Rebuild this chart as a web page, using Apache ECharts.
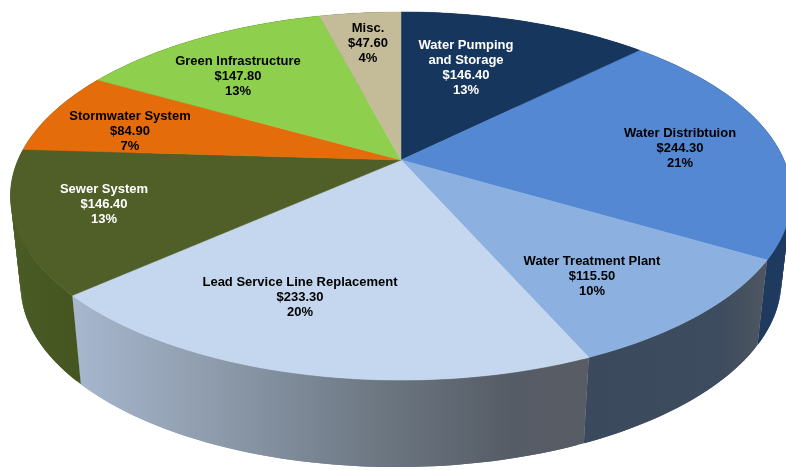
<!DOCTYPE html>
<html>
<head>
<meta charset="utf-8">
<style>html,body{margin:0;padding:0;background:#fff}#c{width:786px;height:470px}</style>
<script src="https://cdn.jsdelivr.net/npm/echarts@6/dist/echarts.min.js"></script>
</head>
<body>
<div id="c"></div>
<script>
var categories = ['Water Pumping\nand Storage','Water Distribtuion','Water Treatment Plant','Lead Service Line Replacement','Sewer System','Stormwater System','Green Infrastructure','Misc.'];
var values = [146.4,244.3,115.5,233.3,146.4,84.9,147.8,47.6];
var topColors = ['#17365d','#5488d3','#8cb1e0','#c4d7ef','#505f28','#e46c0a','#8ecf4e','#c4bc98'];
var labelColors = ['#fff','#000','#000','#000','#fff','#000','#000','#000'];
var labelCenters = [[466,68],[680,148],[592,276],[300,297],[104,204],[130,131],[238,76],[368,43]];

var LG = echarts.graphic.LinearGradient;
function grad(x0,x1,stops){
  return new LG(x0,0,x1,0,stops.map(function(s){return {offset:s[0],color:s[1]};}),true);
}
var wallColors = [
  '#17365d',
  grad(755,790,[[0,'#1f3a5e'],[1,'#1f3a60']]),
  grad(584,767,[[0,'#3a495b'],[0.75,'#3d4c5e'],[1,'#4f5761']]),
  grad(78,588,[[0,'#a6b6cd'],[0.25,'#8f9dae'],[0.6,'#6b7681'],[0.85,'#565c66'],[1,'#585c64']]),
  grad(10,82,[[0,'#4b5b26'],[1,'#45551f']]),
  '#45551f','#45551f','#45551f'
];

// Perspective projection of the pie disc
var CX=401, CY=160, RX=383, RY=177, K=0.1957;
var DROP=87, SHEAR=-0.006, SCALE_X=0.974;
var total = values.reduce(function(a,b){return a+b;},0);
var cum = [0];
values.forEach(function(v,i){cum.push(cum[i]+v);});

function rim(t){
  var u=Math.sin(t), v=-Math.cos(t), d=1-K*v;
  return [CX+RX*u/d, CY+RY*v/d];
}
function base(t){
  var p=rim(t);
  var x=CX+(p[0]-CX)*SCALE_X;
  return [x, p[1]+DROP+SHEAR*(x-CX)];
}
function arc(fn,a,b){
  var n=Math.max(4,Math.ceil(Math.abs(b-a)*60)), pts=[];
  for(var i=0;i<=n;i++){pts.push(fn(a+(b-a)*i/n));}
  return pts;
}
function angles(i){
  return [cum[i]/total*2*Math.PI, cum[i+1]/total*2*Math.PI];
}
function labelOf(i){
  var pct=Math.round(values[i]/total*100);
  return categories[i]+'\n$'+values[i].toFixed(2)+'\n'+pct+'%';
}

var chart = echarts.init(document.getElementById('c'),null,{renderer:'canvas'});
chart.setOption({
  backgroundColor:'#fff',
  animation:false,
  series:[
    {
      type:'custom', coordinateSystem:'none', z:1, silent:true,
      data:values,
      renderItem:function(params){
        var i=params.dataIndex, a=angles(i);
        var r=arc(rim,a[0],a[1]), b=arc(base,a[0],a[1]), kids=[];
        for(var j=0;j<r.length-1;j++){
          var k=Math.min(j+2,r.length-1);
          kids.push({type:'polygon',shape:{points:[r[j],r[k],b[k],b[j]]},
            style:{fill:wallColors[i]}});
        }
        return {type:'group',children:kids};
      }
    },
    {
      type:'custom', coordinateSystem:'none', z:2, silent:true,
      data:values,
      renderItem:function(params){
        var i=params.dataIndex, a=angles(i);
        var pts=[[CX,CY]].concat(arc(rim,a[0],a[1]));
        return {type:'polygon',shape:{points:pts},style:{fill:topColors[i],stroke:topColors[i],lineWidth:0.5}};
      }
    },
    {
      type:'custom', coordinateSystem:'none', z:3, silent:true,
      data:values,
      renderItem:function(params){
        var i=params.dataIndex;
        return {type:'text',x:labelCenters[i][0],y:labelCenters[i][1],style:{
          text:labelOf(i),fill:labelColors[i],align:'center',verticalAlign:'middle',
          font:'bold 13px "Liberation Sans", Arial, sans-serif',lineHeight:15
        }};
      }
    }
  ]
});
</script>
</body>
</html>
